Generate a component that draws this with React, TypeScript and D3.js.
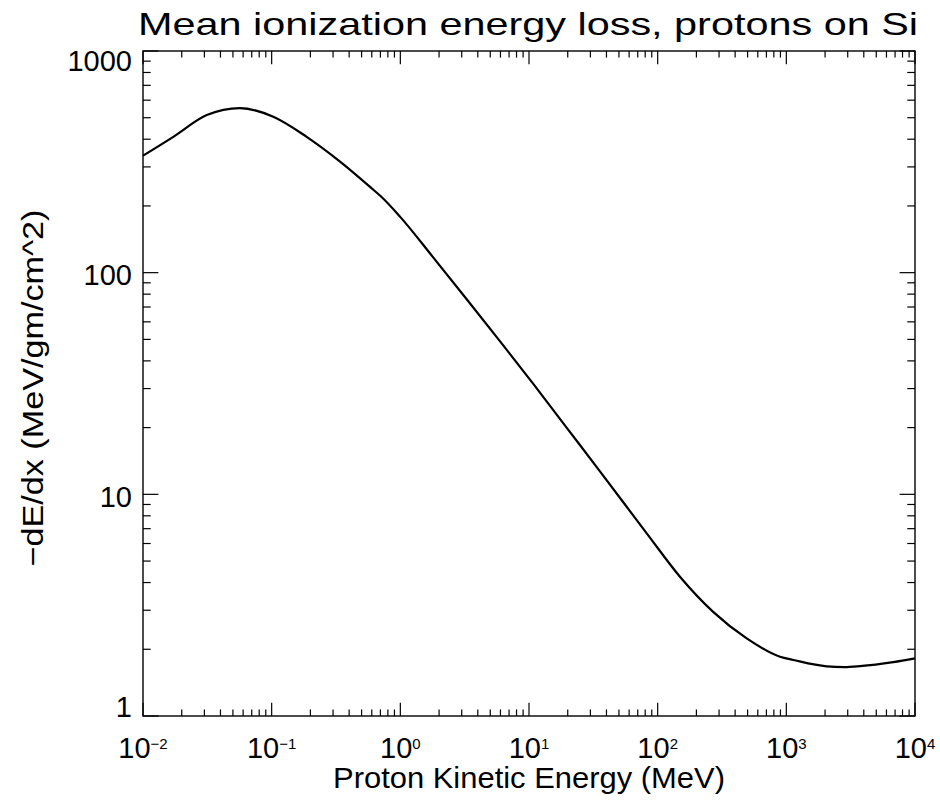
import React from "react";
import * as d3 from "d3";

// Proton kinetic energy (MeV) and mean ionization energy loss (MeV/gm/cm^2)
const energy = [0.01, 0.0172, 0.0313, 0.0567, 0.103, 0.187, 0.34, 0.617, 0.695, 0.994, 1.8, 3.28, 5.96, 10.8, 19.6, 35.6, 82.2, 149, 270, 492, 893, 1133, 2060, 2818, 3734, 6776, 10000];
const dedx = [337, 410, 514, 553, 505, 410, 317, 236.6, 222.8, 179, 117.2, 75.9, 49.0, 31.5, 20.0, 12.7, 6.67, 4.25, 2.95, 2.24, 1.85, 1.79, 1.675, 1.663, 1.679, 1.75, 1.82];

const xTickExps = [-2, -1, 0, 1, 2, 3, 4];
const yTickValues = [1, 10, 100, 1000];
const yTickLabels = ["1", "10", "100", "1000"];

const titleText = "Mean ionization energy loss, protons on Si";
const xLabelText = "Proton Kinetic Energy (MeV)";
const yLabelText = "\u2212dE/dx  (MeV/gm/cm^2)";

const W = 940;
const H = 802;
const L = 143, R = 915, T = 51, B = 716;
const FONT = "'Liberation Sans', Arial, sans-serif";

function minorTicks(lo: number, hi: number): number[] {
  const out: number[] = [];
  for (let e = lo; e < hi; e++) {
    for (let k = 2; k <= 9; k++) out.push(k * Math.pow(10, e));
  }
  return out;
}

export default function App() {
  const x = d3.scaleLog().domain([0.01, 10000]).range([L, R]);
  const y = d3.scaleLog().domain([1, 1000]).range([B, T]);

  const pts: [number, number][] = energy.map((e, i) => [x(e), y(dedx[i])]);
  const line = d3.line().curve(d3.curveMonotoneX)(pts) || "";

  const xMajor = xTickExps.map((e) => Math.pow(10, e));
  const xMinor = minorTicks(-2, 4);
  const yMinor = minorTicks(0, 3);

  const xMajLen = 13.3, xMinLen = 6.6;
  const yMajLen = 15.4, yMinLen = 7.7;

  const yLabelBaseline = (v: number, i: number) => {
    if (i === 0) return y(v) + 1;
    if (i === yTickValues.length - 1) return y(v) + 20;
    return y(v) + 12.5;
  };

  return (
    <svg width={W} height={H} style={{ position: "absolute", left: 0, top: 0, background: "#fff" }}>
      <rect x={0} y={0} width={W} height={H} fill="#fff" />
      {/* frame */}
      <rect x={L} y={T} width={R - L} height={B - T} fill="none" stroke="#000" strokeWidth={1.4} />
      {/* x ticks */}
      {xMajor.map((v) => (
        <g key={"xM" + v}>
          <line x1={x(v)} x2={x(v)} y1={B} y2={B - xMajLen} stroke="#000" strokeWidth={1.2} />
          <line x1={x(v)} x2={x(v)} y1={T} y2={T + xMajLen} stroke="#000" strokeWidth={1.2} />
        </g>
      ))}
      {xMinor.map((v) => (
        <g key={"xm" + v}>
          <line x1={x(v)} x2={x(v)} y1={B} y2={B - xMinLen} stroke="#000" strokeWidth={1.2} />
          <line x1={x(v)} x2={x(v)} y1={T} y2={T + xMinLen} stroke="#000" strokeWidth={1.2} />
        </g>
      ))}
      {/* y ticks */}
      {yTickValues.map((v) => (
        <g key={"yM" + v}>
          <line x1={L} x2={L + yMajLen} y1={y(v)} y2={y(v)} stroke="#000" strokeWidth={1.2} />
          <line x1={R} x2={R - yMajLen} y1={y(v)} y2={y(v)} stroke="#000" strokeWidth={1.2} />
        </g>
      ))}
      {yMinor.map((v) => (
        <g key={"ym" + v}>
          <line x1={L} x2={L + yMinLen} y1={y(v)} y2={y(v)} stroke="#000" strokeWidth={1.2} />
          <line x1={R} x2={R - yMinLen} y1={y(v)} y2={y(v)} stroke="#000" strokeWidth={1.2} />
        </g>
      ))}
      {/* curve */}
      <path d={line} fill="none" stroke="#000" strokeWidth={2.2} strokeLinejoin="round" />
      {/* x tick labels */}
      {xTickExps.map((e) => (
        <text key={"xl" + e} x={x(Math.pow(10, e))} y={758} textAnchor="middle" fontFamily={FONT} fontSize={29} fill="#000">
          10
          <tspan fontSize={15} dy={-9.5}>{e < 0 ? "\u2212" + Math.abs(e) : String(e)}</tspan>
        </text>
      ))}
      {/* y tick labels */}
      {yTickValues.map((v, i) => (
        <text key={"yl" + v} x={132} y={yLabelBaseline(v, i)} textAnchor="end" fontFamily={FONT} fontSize={29} fill="#000">
          {yTickLabels[i]}
        </text>
      ))}
      {/* title */}
      <text x={138} y={35} fontFamily={FONT} fontSize={32} textLength={780} lengthAdjust="spacingAndGlyphs" fill="#000">
        {titleText}
      </text>
      {/* x label */}
      <text x={(L + R) / 2} y={788} textAnchor="middle" fontFamily={FONT} fontSize={29} textLength={392} lengthAdjust="spacingAndGlyphs" fill="#000">
        {xLabelText}
      </text>
      {/* y label */}
      <text transform={`translate(43, ${388}) rotate(-90)`} textAnchor="middle" fontFamily={FONT} fontSize={30} textLength={357} lengthAdjust="spacingAndGlyphs" fill="#000">
        {yLabelText}
      </text>
    </svg>
  );
}
